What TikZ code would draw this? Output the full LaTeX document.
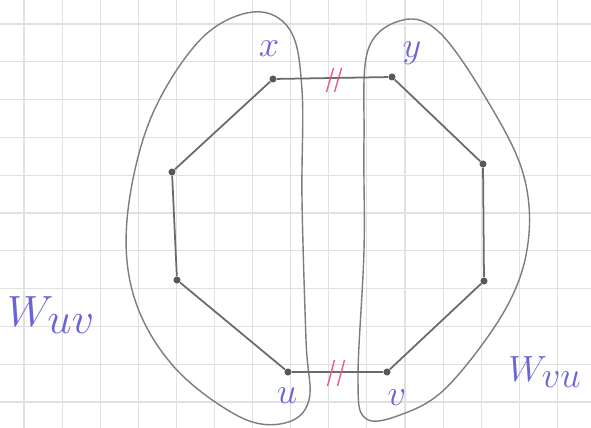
\documentclass[tikz,border=0pt]{standalone}
\usepackage{tikz}
\usetikzlibrary{calc}
\definecolor{penBlue}{RGB}{105,100,215}
\definecolor{penRed}{RGB}{232,95,125}
\definecolor{pencil}{RGB}{125,125,125}
\definecolor{gridGray}{RGB}{225,225,225}

\begin{document}
\begin{tikzpicture}[x=0.02cm, y=-0.02cm,
  vertex/.style={circle, fill=pencil!70!black, inner sep=0pt, minimum size=4pt},
  edge/.style={draw=pencil!85!black, line width=1pt},
  blob/.style={draw=pencil, line width=0.8pt},
  tickmark/.style={draw=penRed, line width=0.8pt},
  lbl/.style={text=penBlue, font=\fontsize{20}{20}\selectfont, inner sep=0pt},
  setlbl/.style={text=penBlue, inner sep=0pt},
]
  \fill[white] (0,0) rectangle (591,428);
  \useasboundingbox (0,0) rectangle (591,428);

  % squared paper
  \foreach \k in {0,...,14}
    \draw[gridGray, line width=0.6pt] ({24+38.1*\k},0) -- ({24+38.1*\k},428);
  \foreach \k in {0,...,10}
    \draw[gridGray, line width=0.6pt] (0,{24+37.8*\k}) -- (591,{24+37.8*\k});

  % the two sets
  \draw[blob] plot[smooth cycle, tension=0.6] coordinates {
    (253,12) (290,30) (302,90) (302,200) (306,340) (309,400) (285,423)
    (240,417) (175,368) (135,300) (127,220) (150,120) (200,40)};
  \draw[blob] plot[smooth cycle, tension=0.6] coordinates {
    (403,20) (440,33) (487,100) (523,173) (528,243) (505,310) (447,387)
    (400,415) (365,418) (358,377) (364,250) (364,140) (368,50)};

  % the cycle
  \node[vertex] (x)  at (273,79)  {};
  \node[vertex] (y)  at (392,77)  {};
  \node[vertex] (r1) at (483,164) {};
  \node[vertex] (r2) at (484,281) {};
  \node[vertex] (v)  at (387,372) {};
  \node[vertex] (u)  at (288,372) {};
  \node[vertex] (l2) at (177,280) {};
  \node[vertex] (l1) at (172,172) {};

  \draw[edge] (x) -- (y) -- (r1) -- (r2) -- (v) -- (u) -- (l2) -- (l1) -- (x);

  % cut edges
  \coordinate (top) at ($(x)!0.5!(y)$);
  \coordinate (bot) at ($(u)!0.5!(v)$);
  \draw[tickmark] ($(top)+(-6,14)$) -- ($(top)+(1,-10)$);
  \draw[tickmark] ($(top)+(2,14)$) -- ($(top)+(9,-10)$);
  \draw[tickmark] ($(bot)+(-10,14)$) -- ($(bot)+(-3,-12)$);
  \draw[tickmark] ($(bot)+(0,14)$) -- ($(bot)+(7,-12)$);

  % labels
  \node[lbl] (xlabel) at (269,49)  {$x$};
  \node[lbl] (ylabel) at (412,53)  {$y$};
  \node[lbl] (ulabel) at (287,396) {$u$};
  \node[lbl] (vlabel) at (397,398) {$v$};
  \node[setlbl, font=\fontsize{24}{24}\selectfont] (Wuv) at (51,315) {$W_{\textstyle uv}$};
  \node[setlbl, font=\fontsize{21}{21}\selectfont] (Wvu) at (545,372) {$W_{\textstyle vu}$};
\end{tikzpicture}
\end{document}
